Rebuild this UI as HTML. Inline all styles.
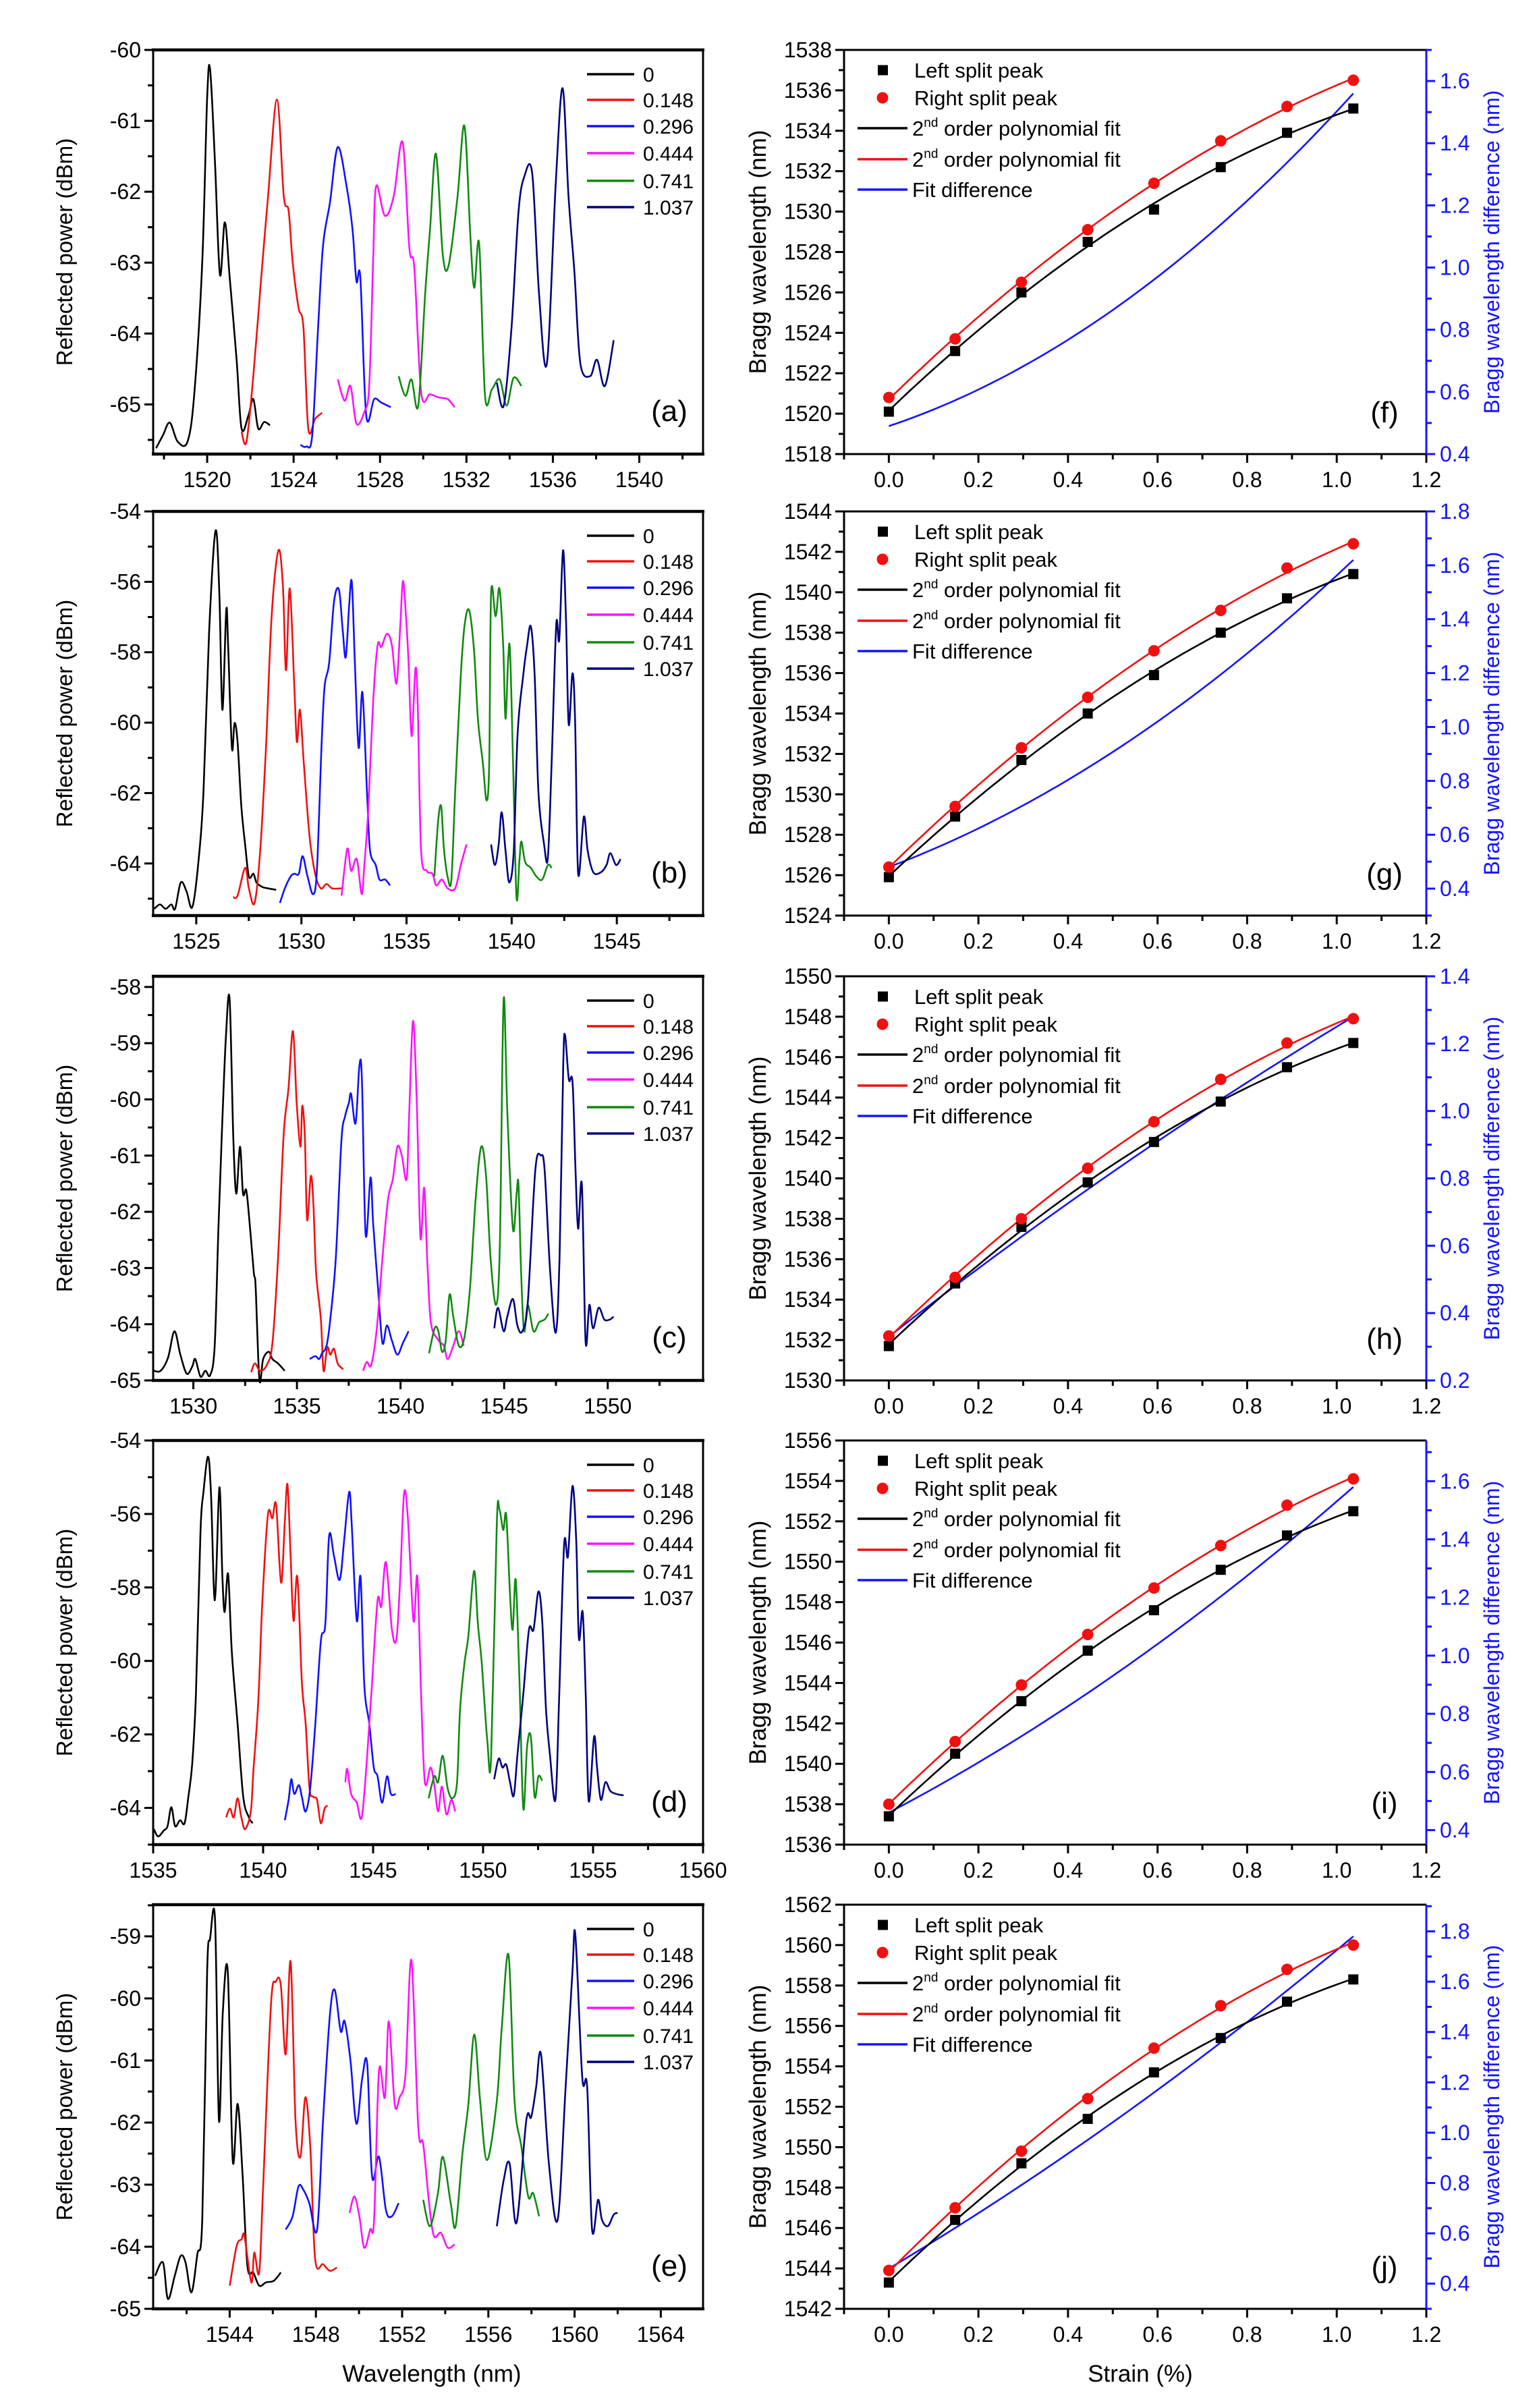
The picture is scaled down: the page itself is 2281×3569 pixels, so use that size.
<!DOCTYPE html>
<html><head><meta charset="utf-8">
<style>
html,body{margin:0;padding:0;background:#fff;}
svg{display:block;}
text{font-family:"Liberation Sans",Arial,sans-serif;}
</style></head>
<body>
<svg id="s" width="2281" height="3569" xmlns="http://www.w3.org/2000/svg"></svg>
<script>
const S=document.getElementById('s');
let out='<rect width="2281" height="3569" fill="#fff"/>';
const T=[74,758,1447,2135,2823],H=599;
const LX0=227,LX1=1042,RX0=1251,RX1=2114;
const COL=['#000','#f01010','#1010ff','#ff10ff','#108a10','#000080'];
const LEG=['0','0.148','0.296','0.444','0.741','1.037'];
function cr(p){let d='M'+p[0][0].toFixed(1)+','+p[0][1].toFixed(1);
 for(let i=0;i<p.length-1;i++){const a=p[i-1]||p[i],b=p[i],c=p[i+1],e=p[i+2]||c;
 d+='C'+(b[0]+(c[0]-a[0])/6).toFixed(1)+','+(b[1]+(c[1]-a[1])/6).toFixed(1)+' '+(c[0]-(e[0]-b[0])/6).toFixed(1)+','+(c[1]-(e[1]-b[1])/6).toFixed(1)+' '+c[0].toFixed(1)+','+c[1].toFixed(1);}
 return d;}
function txt(x,y,s,o){o=o||{};return `<text x="${x}" y="${y}" font-size="${o.fs||32}" text-anchor="${o.a||'middle'}" fill="${o.c||'#000'}"${o.f?' font-family="Liberation Serif,serif"':''}${o.t?' transform="'+o.t+'"':''}>${s}</text>`;}
function ln(x1,y1,x2,y2,c,w){return `<line x1="${x1}" y1="${y1}" x2="${x2}" y2="${y2}" stroke="${c||'#000'}" stroke-width="${w||3}"/>`;}
function fmt(v,d){return (Math.abs(v)<1e-9?0:v).toFixed(d);}

// ---------- left panels ----------
const LP=[
{xr:[1517.5,1542.95],yr:[-65.7,-60],xt:[1520,1540,4],yt:[-65,-60,1],lab:'(a)',pb:[155,715,153,1388],
s:[
[[158,1370],[165,1330],[172,1292],[180,1350],[190,1350],[197,1200],[205,800],[210,300],[213,213],[218,500],[223,840],[228,680],[233,850],[240,1100],[245,1310],[252,1270],[257,1220],[262,1310],[268,1290],[274,1300]],
[[245,1320],[250,1350],[257,1150],[265,850],[272,600],[281,305],[288,600],[293,645],[297,800],[303,940],[308,1000],[313,1310],[320,1280],[327,1262]],
[[305,1360],[311,1365],[317,1330],[323,1000],[328,750],[335,620],[343,450],[352,570],[358,700],[362,860],[366,850],[372,1270],[380,1220],[387,1230],[397,1245]],
[[343,1160],[350,1225],[356,1180],[362,1295],[370,1260],[375,1180],[379,800],[382,570],[391,660],[400,600],[409,435],[416,760],[421,820],[428,1200],[437,1205],[446,1215],[455,1220],[462,1245]],
[[405,1150],[412,1210],[418,1160],[425,1240],[432,900],[437,700],[443,470],[450,780],[456,810],[465,600],[472,385],[478,720],[482,880],[487,745],[493,1210],[500,1190],[508,1160],[515,1240],[522,1155],[530,1180]],
[[505,1170],[512,1240],[520,1000],[527,650],[533,540],[541,530],[548,900],[556,1110],[565,560],[572,270],[578,600],[584,830],[590,1110],[600,1150],[607,1100],[615,1180],[624,1040]]
]},
{xr:[1522.95,1549.1],yr:[-65.48,-54],xt:[1525,1545,5],yt:[-64,-54,2],lab:'(b)',pb:[47,1500,42,1423],
s:[
[[50,1400],[65,1385],[80,1400],[95,1385],[105,1400],[120,1310],[135,1340],[150,1395],[165,1260],[180,1000],[195,450],[212,108],[222,330],[230,720],[240,380],[245,500],[255,850],[262,765],[270,830],[280,1050],[290,1180],[300,1290],[312,1280],[320,1310],[335,1325],[350,1330],[372,1335]],
[[258,1360],[270,1355],[290,1260],[300,1330],[315,1380],[330,1200],[345,850],[360,400],[378,175],[390,300],[398,585],[408,305],[420,640],[427,830],[435,720],[445,900],[460,1150],[475,1280],[490,1330],[505,1315],[520,1330],[545,1330]],
[[382,1380],[395,1330],[410,1290],[420,1280],[432,1280],[442,1220],[455,1290],[470,1350],[480,1260],[492,840],[500,640],[512,560],[525,350],[538,310],[548,450],[556,540],[565,360],[572,285],[580,560],[590,850],[600,660],[612,1000],[620,1200],[635,1250],[645,1300],[660,1300],[673,1320]],
[[545,1355],[560,1195],[570,1270],[585,1230],[598,1350],[605,1250],[615,1070],[628,700],[640,500],[650,505],[665,460],[678,500],[690,630],[700,430],[707,280],[715,400],[722,560],[730,810],[740,580],[746,700],[755,1200],[770,1270],[785,1280],[795,1320],[810,1300],[825,1330],[845,1330],[860,1250],[875,1180]],
[[790,1290],[800,1100],[808,1050],[815,1190],[825,1290],[835,1300],[845,1000],[860,600],[870,430],[882,380],[895,520],[905,750],[918,900],[928,1030],[935,900],[940,320],[952,400],[962,305],[972,500],[978,750],[985,550],[990,520],[998,900],[1007,1360],[1015,1230],[1020,1170],[1030,1240],[1045,1260],[1060,1290],[1075,1300],[1090,1250],[1100,1260]],
[[940,1180],[950,1250],[960,1180],[968,1070],[978,1200],[988,1310],[1000,1200],[1010,800],[1025,600],[1035,500],[1045,435],[1055,600],[1065,1000],[1080,1180],[1090,1225],[1100,900],[1112,430],[1120,480],[1130,175],[1138,420],[1145,770],[1155,595],[1162,760],[1170,1280],[1185,1085],[1195,1200],[1210,1275],[1230,1275],[1245,1250],[1255,1210],[1270,1250],[1282,1230]]
]},
{xr:[1528.06,1554.6],yr:[-65,-57.81],xt:[1530,1550,5],yt:[-65,-58,1],lab:'(c)',pb:[25,1500,38,1418],
s:[
[[27,1385],[45,1385],[65,1340],[82,1250],[98,1330],[115,1395],[130,1370],[138,1345],[152,1405],[165,1385],[178,1400],[190,1300],[200,900],[210,550],[220,250],[230,115],[240,590],[248,780],[258,620],[266,780],[275,770],[285,900],[295,1050],[300,1100],[310,1415],[320,1345],[335,1320],[345,1345],[360,1360],[378,1385]],
[[288,1390],[298,1360],[312,1385],[330,1365],[345,1290],[360,1000],[375,580],[388,420],[400,225],[410,470],[420,620],[425,480],[432,590],[438,870],[448,720],[455,820],[462,1050],[475,1210],[482,1385],[492,1305],[500,1330],[510,1310],[520,1360],[535,1380]],
[[445,1345],[460,1335],[470,1345],[478,1325],[490,1300],[500,1210],[515,1000],[530,600],[540,515],[550,470],[556,440],[568,540],[578,345],[585,390],[595,920],[608,725],[615,880],[628,1100],[640,1290],[652,1230],[665,1280],[680,1330],[695,1290],[710,1250]],
[[588,1385],[598,1355],[610,1365],[625,1240],[640,1000],[655,800],[668,730],[680,620],[692,650],[705,730],[712,500],[722,190],[732,460],[742,930],[752,760],[760,1000],[770,1220],[790,1280],[805,1300],[815,1345],[830,1300],[845,1250],[858,1300]],
[[765,1325],[780,1240],[790,1250],[800,1320],[810,1280],[820,1125],[830,1200],[845,1300],[860,1270],[875,1100],[890,800],[905,620],[918,720],[930,1000],[945,1160],[955,950],[965,120],[975,500],[990,900],[1000,780],[1005,750],[1012,1050],[1020,1250],[1030,1160],[1045,1250],[1060,1220],[1075,1210],[1085,1190]],
[[940,1240],[950,1170],[965,1250],[975,1200],[990,1140],[1002,1230],[1015,1250],[1030,1150],[1050,700],[1065,650],[1075,700],[1090,1050],[1105,1255],[1115,1000],[1125,340],[1130,240],[1140,390],[1150,400],[1158,700],[1165,900],[1175,750],[1185,1285],[1195,1160],[1205,1240],[1220,1170],[1235,1210],[1250,1210],[1260,1200]]
]},
{xr:[1535,1560],yr:[-65,-54],xt:[1535,1560,5],yt:[-64,-54,2],lab:'(d)',pb:[47,1500,35,1413],
s:[
[[49,1360],[60,1385],[75,1365],[85,1350],[95,1285],[105,1350],[118,1330],[130,1340],[140,1250],[150,1140],[160,900],[172,350],[180,210],[192,90],[200,220],[210,580],[222,195],[230,500],[236,620],[245,490],[255,760],[270,1000],[285,1250],[300,1320],[310,1340]],
[[240,1320],[250,1290],[260,1320],[270,1255],[280,1320],[290,1360],[305,1300],[312,1160],[325,920],[335,600],[350,290],[362,300],[372,255],[385,520],[395,310],[402,185],[410,420],[418,650],[428,500],[440,860],[450,1000],[460,1220],[470,1250],[480,1260],[490,1340],[500,1290],[508,1280]],
[[395,1330],[405,1260],[412,1190],[420,1240],[432,1210],[440,1250],[450,1300],[462,1220],[475,1010],[490,720],[502,660],[512,360],[525,430],[540,510],[552,370],[565,210],[572,330],[585,650],[595,500],[605,870],[618,1000],[630,1150],[640,1180],[652,1270],[665,1180],[675,1240],[688,1240]],
[[555,1200],[560,1155],[570,1240],[585,1270],[598,1320],[612,1120],[625,870],[640,580],[650,600],[662,450],[678,680],[690,710],[700,500],[710,215],[720,300],[735,650],[745,500],[755,900],[765,1200],[780,1150],[790,1210],[800,1300],[810,1215],[822,1310],[835,1260],[845,1300]],
[[775,1255],[790,1180],[800,1200],[812,1110],[825,1220],[838,1255],[850,1200],[858,950],[870,790],[880,700],[895,480],[905,660],[915,790],[930,1060],[940,1115],[955,320],[962,270],[972,340],[980,290],[990,560],[997,680],[1005,510],[1015,860],[1025,1290],[1035,1080],[1045,1045],[1055,1250],[1065,1180],[1075,1195]],
[[948,1190],[960,1120],[970,1150],[980,1140],[990,1200],[1000,1245],[1010,1100],[1025,900],[1040,680],[1052,680],[1065,550],[1075,650],[1085,950],[1095,1100],[1110,1260],[1120,900],[1133,390],[1143,430],[1155,190],[1165,380],[1172,710],[1182,620],[1190,900],[1198,1265],[1212,1045],[1220,1150],[1230,1260],[1242,1200],[1255,1230],[1270,1240],[1290,1245]]
]},
{xr:[1540.45,1565.96],yr:[-65,-58.49],xt:[1544,1564,4],yt:[-65,-59,1],lab:'(e)',pb:[155,715,47,1270],
s:[
[[157,1170],[165,1130],[170,1240],[177,1170],[183,1110],[188,1130],[194,1220],[200,1105],[205,1000],[210,250],[213,150],[218,92],[222,700],[226,370],[231,250],[236,820],[241,650],[246,860],[251,1140],[257,1160],[263,1200],[270,1190],[278,1185],[285,1160]],
[[233,1200],[240,1080],[245,1060],[248,1050],[255,1190],[258,1100],[263,1160],[267,900],[275,350],[280,280],[285,290],[290,500],[295,220],[300,700],[305,810],[310,630],[315,780],[320,1120],[328,1135],[335,1155],[342,1145]],
[[290,1030],[297,990],[303,900],[308,910],[314,950],[322,1030],[328,700],[335,380],[340,305],[346,430],[350,400],[356,520],[362,710],[368,570],[373,530],[378,870],[385,810],[392,970],[398,990],[405,950]],
[[355,980],[360,930],[365,990],[370,1085],[376,1030],[380,1000],[385,550],[391,630],[395,400],[401,650],[406,630],[412,560],[418,215],[425,720],[430,770],[436,950],[441,1050],[448,1040],[455,1085],[462,1075]],
[[430,940],[437,1020],[445,920],[450,810],[458,950],[463,1020],[470,800],[476,650],[482,440],[488,640],[495,820],[505,640],[510,420],[517,200],[523,640],[530,780],[537,930],[542,920],[548,990]],
[[505,1020],[512,880],[518,830],[525,1010],[535,700],[540,690],[545,600],[550,500],[558,830],[567,1000],[575,600],[582,250],[585,140],[592,570],[597,600],[602,1030],[608,940],[612,1000],[618,1020],[624,985],[628,980]]
]}
];

LP.forEach((p,i)=>{
 const top=T[i],bot=top+H;
 const X=v=>LX0+(v-p.xr[0])/(p.xr[1]-p.xr[0])*(LX1-LX0);
 const Y=v=>bot-(v-p.yr[0])/(p.yr[1]-p.yr[0])*H;
 const [pL,pR,pT,pB]=p.pb;
 p.s.forEach((ser,k)=>{
  const pts=ser.map(q=>[LX0+(q[0]-pL)/(pR-pL)*(LX1-LX0),top+(q[1]-pT)/(pB-pT)*H]);
  out+=`<path d="${cr(pts)}" fill="none" stroke="${COL[k]}" stroke-width="2.6" stroke-linejoin="round"/>`;
 });
 // frame
 out+=`<rect x="${LX0}" y="${top}" width="${LX1-LX0}" height="${H}" fill="none" stroke="#000" stroke-width="3"/>`;
 out+=ln(LX0-2,top,LX1+2,top,'#000',4.5)+ln(LX0-2,bot,LX1+2,bot,'#000',4.5);
 // x ticks
 const st=p.xt[2];
 for(let v=p.xt[0]-st;v<=p.xr[1]+1e-6;v+=st/2){
  if(v<p.xr[0]-1e-6)continue;
  const major=Math.abs(((v-p.xt[0])/st)-Math.round((v-p.xt[0])/st))<1e-6;
  const x=X(v);out+=ln(x,bot,x,bot+(major?13:8),'#000',3);
  if(major) out+=txt(x,bot+49,Math.round(v),{fs:32});
 }
 const ys=p.yt[2];
 for(let v=p.yt[0]-ys;v<=p.yr[1]+1e-6;v+=ys/2){
  if(v<p.yr[0]-1e-6)continue;
  const major=Math.abs(((v-p.yt[0])/ys)-Math.round((v-p.yt[0])/ys))<1e-6;
  const y=Y(v);out+=ln(LX0,y,LX0-(major?13:8),y,'#000',3);
  if(major) out+=txt(LX0-18,y+11,Math.round(v),{fs:32,a:'end'});
 }
 // legend
 const ly=[36,74,113,153,194,233];
 ly.forEach((d,k)=>{out+=ln(870,top+d,940,top+d,COL[k],3.5)+txt(953,top+d+11,LEG[k],{fs:30,a:'start'});});
 out+=txt(992,top+550,p.lab,{fs:44,f:1});
 out+=txt(96,top+H/2,'Reflected power (dBm)',{fs:33,t:`rotate(-90 ${96} ${top+H/2})`}).replace(`y="${top+H/2}"`,`y="${top+H/2+11}"`);
});

// ---------- right panels ----------
const SX=[0,0.148,0.296,0.444,0.592,0.741,0.889,1.037];
const RP=[
{yr:[1518,1538],ry:[0.4,1.70],rt:[0.4,1.6],L:[1520.1,1523.1,1526.0,1528.5,1530.1,1532.2,1533.9,1535.1],R:[1520.8,1523.7,1526.5,1529.1,1531.4,1533.5,1535.2,1536.5],B:[0.49,0.97,1.56],lab:'(f)'},
{yr:[1524,1544],ry:[0.30,1.80],rt:[0.4,1.8],L:[1525.9,1528.9,1531.7,1534.0,1535.9,1538.0,1539.7,1540.9],R:[1526.4,1529.4,1532.3,1534.8,1537.1,1539.1,1541.2,1542.4],B:[0.48,1.02,1.62],lab:'(g)'},
{yr:[1530,1550],ry:[0.2,1.4],rt:[0.2,1.4],L:[1531.7,1534.8,1537.6,1539.8,1541.8,1543.8,1545.5,1546.7],R:[1532.2,1535.1,1538.0,1540.5,1542.8,1544.9,1546.7,1547.9],B:[0.33,0.91,1.28],lab:'(h)'},
{yr:[1536,1556],ry:[0.35,1.74],rt:[0.4,1.6],L:[1537.4,1540.5,1543.1,1545.6,1547.6,1549.6,1551.3,1552.5],R:[1538.0,1541.1,1543.9,1546.4,1548.7,1550.8,1552.8,1554.1],B:[0.46,1.04,1.58],lab:'(i)'},
{yr:[1542,1562],ry:[0.30,1.906],rt:[0.4,1.8],L:[1543.3,1546.4,1549.2,1551.4,1553.7,1555.4,1557.2,1558.3],R:[1543.9,1547.0,1549.8,1552.4,1554.9,1557.0,1558.8,1560.0],B:[0.46,1.17,1.78],lab:'(j)'}
];
function qfit(x,y){let n=x.length,s=[0,0,0,0,0],t=[0,0,0];
 for(let i=0;i<n;i++){let p=1;for(let k=0;k<5;k++){s[k]+=p;if(k<3)t[k]+=p*y[i];p*=x[i];}}
 const M=[[s[0],s[1],s[2],t[0]],[s[1],s[2],s[3],t[1]],[s[2],s[3],s[4],t[2]]];
 for(let c=0;c<3;c++){for(let r=c+1;r<3;r++){const f=M[r][c]/M[c][c];for(let k=c;k<4;k++)M[r][k]-=f*M[c][k];}}
 const a=[0,0,0];for(let r=2;r>=0;r--){let v=M[r][3];for(let k=r+1;k<3;k++)v-=M[r][k]*a[k];a[r]=v/M[r][r];}
 return v=>a[0]+a[1]*v+a[2]*v*v;}
const XS=v=>RX0+(v+0.1)/1.3*(RX1-RX0);
const BL='#1414ff';
RP.forEach((p,i)=>{
 const top=T[i],bot=top+H;
 const Y=v=>bot-(v-p.yr[0])/(p.yr[1]-p.yr[0])*H;
 const Y2=v=>bot-(v-p.ry[0])/(p.ry[1]-p.ry[0])*H;
 const fl=qfit(SX,p.L),fr=qfit(SX,p.R);
 // blue quadratic through 3 points
 const x1=0,x2=0.6,x3=1.037,[b1,b2,b3]=p.B;
 const fb=v=>b1*(v-x2)*(v-x3)/((x1-x2)*(x1-x3))+b2*(v-x1)*(v-x3)/((x2-x1)*(x2-x3))+b3*(v-x1)*(v-x2)/((x3-x1)*(x3-x2));
 const mk=(f,Yf)=>{let a=[];for(let k=0;k<=60;k++){const v=1.037*k/60;a.push((k?'L':'M')+XS(v).toFixed(1)+','+Yf(f(v)).toFixed(1));}return a.join('');};
 out+=`<path d="${mk(fb,Y2)}" fill="none" stroke="${BL}" stroke-width="2.6"/>`;
 out+=`<path d="${mk(fl,Y)}" fill="none" stroke="#000" stroke-width="2.6"/>`;
 out+=`<path d="${mk(fr,Y)}" fill="none" stroke="#f01010" stroke-width="2.6"/>`;
 SX.forEach((v,k)=>{out+=`<rect x="${XS(v)-7.5}" y="${Y(p.L[k])-7.5}" width="15" height="15" fill="#000"/>`;
  out+=`<circle cx="${XS(v)}" cy="${Y(p.R[k])}" r="8.5" fill="#f01010"/>`;});
 // frame
 out+=ln(RX0,top,RX1,top,'#000',3)+ln(RX0,bot,RX1,bot,'#000',3)+ln(RX0,top,RX0,bot,'#000',3)+ln(RX1,top,RX1,bot,BL,3);
 for(let k=0;k<=13;k++){const v=-0.1+k*0.1,x=XS(v),major=(k%2==1);
  out+=ln(x,bot,x,bot+(major?13:8),'#000',3); if(major) out+=txt(x,bot+49,fmt(v,1),{fs:32});}
 for(let v=p.yr[0];v<=p.yr[1]+1e-6;v+=1){const y=Y(v),major=(Math.round(v-p.yr[0])%2==0);
  out+=ln(RX0,y,RX0-(major?13:8),y,'#000',3); if(major) out+=txt(RX0-18,y+11,Math.round(v),{fs:32,a:'end'});}
 for(let v=Math.ceil(p.ry[0]*10-1e-6)/10;v<=p.ry[1]+1e-6;v+=0.1){const y=Y2(v);
  const major=Math.abs(Math.round(v*10)%2)==0 && v>=p.rt[0]-1e-6 && v<=p.rt[1]+1e-6;
  out+=ln(RX1,y,RX1+(major?13:8),y,BL,3); if(major) out+=txt(RX1+20,y+11,fmt(v,1),{fs:32,a:'start',c:BL});}
 // legend
 out+=`<rect x="1301" y="${top+30-7.5}" width="15" height="15" fill="#000"/>`+txt(1355,top+30+11,'Left split peak',{fs:31,a:'start'});
 out+=`<circle cx="1308" cy="${top+71}" r="8.5" fill="#f01010"/>`+txt(1355,top+71+11,'Right split peak',{fs:31,a:'start'});
 const lg=[[116,'#000','2<tspan font-size="19" dy="-13">nd</tspan><tspan dy="13"> order polynomial fit</tspan>'],[162,'#f01010','2<tspan font-size="19" dy="-13">nd</tspan><tspan dy="13"> order polynomial fit</tspan>'],[207,BL,'Fit difference']];
 lg.forEach(q=>{out+=ln(1271,top+q[0],1345,top+q[0],q[1],3.5)+txt(1352,top+q[0]+11,q[2],{fs:31,a:'start'});});
 out+=txt(2052,top+552,p.lab,{fs:44,f:1});
 const cy=top+H/2;
 out+=`<text x="1123" y="${cy+12}" font-size="35" text-anchor="middle" transform="rotate(-90 1123 ${cy})">Bragg wavelength (nm)</text>`;
 out+=`<text x="2211" y="${cy+11}" font-size="32" text-anchor="middle" fill="${BL}" transform="rotate(-90 2211 ${cy})">Bragg wavelength difference (nm)</text>`;
});
out+=txt(640,3530,'Wavelength (nm)',{fs:35});
out+=txt(1690,3530,'Strain (%)',{fs:35});
S.innerHTML=out;
</script>
</body></html>
